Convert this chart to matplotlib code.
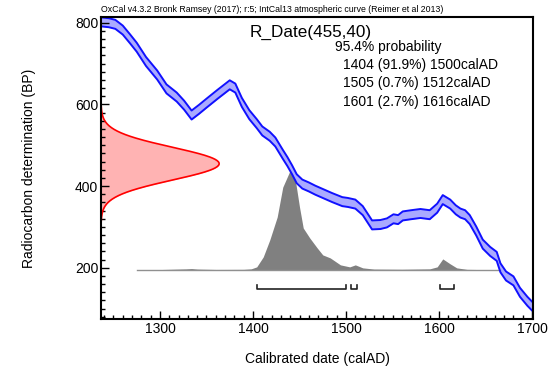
#OxCal calibration plot: R_Date(455,40) against IntCal13
import numpy as np
import matplotlib.pyplot as plt
from matplotlib.ticker import MultipleLocator

plt.rcParams["font.family"] = ["Liberation Sans", "DejaVu Sans"]

#calibration curve (calAD -> BP)
cal_date = [1237, 1245, 1252, 1260, 1268, 1275, 1285, 1297, 1307, 1318, 1326, 1334,
            1342, 1350, 1362, 1375, 1381, 1388, 1396, 1404, 1410, 1418, 1424, 1432,
            1437, 1442, 1447, 1453, 1460, 1467, 1475, 1485, 1496, 1502, 1510, 1518,
            1528, 1537, 1544, 1551, 1556, 1561, 1570, 1580, 1590, 1598, 1604, 1612,
            1618, 1623, 1628, 1633, 1640, 1647, 1655, 1662, 1666, 1672, 1680, 1687,
            1695, 1701]
cal_bp = [802, 800, 796, 782, 760, 740, 705, 672, 638, 618, 598, 574,
          588, 603, 625, 648, 640, 605, 575, 553, 535, 522, 508, 478,
          460, 440, 418, 405, 398, 390, 382, 372, 362, 360, 356, 340,
          305, 306, 310, 320, 318, 327, 330, 333, 330, 346, 367, 356,
          342, 334, 330, 318, 290, 258, 240, 228, 200, 180, 168, 140,
          118, 104]
cal_err = 11

#radiocarbon measurement
r_mean = 455
r_sigma = 40

#calibrated probability (relative to peak)
prob_date = [1275, 1300, 1328, 1334, 1340, 1360, 1390, 1398, 1404, 1411, 1418, 1426,
             1432, 1440, 1445, 1450, 1454, 1461, 1469, 1475, 1483, 1494, 1504, 1510,
             1518, 1530, 1560, 1590, 1598, 1604, 1612, 1619, 1630, 1665]
prob_val = [0, 0.003, 0.01, 0.013, 0.008, 0.004, 0.005, 0.01, 0.03, 0.13, 0.30, 0.53,
            0.83, 1.00, 0.93, 0.63, 0.42, 0.32, 0.22, 0.15, 0.12, 0.05, 0.03, 0.05,
            0.02, 0.008, 0.006, 0.01, 0.03, 0.11, 0.06, 0.02, 0.005, 0]

#95.4% ranges
range_start = [1404, 1505, 1601]
range_end = [1500, 1512, 1616]
range_lines = ["1404 (91.9%) 1500calAD", "1505 (0.7%) 1512calAD", "1601 (2.7%) 1616calAD"]

fig = plt.figure(figsize=(5.56, 3.71), dpi=100)
ax = fig.add_axes([101/556, 52/371, 432/556, 302/371])
xmin, xmax = 1236.6, 1701
ax.set_xlim(xmin, xmax)
ax.set_ylim(74.7, 814)

#measurement on the y axis
yy = np.linspace(r_mean - 3.5*r_sigma, r_mean + 3.5*r_sigma, 200)
xx = xmin + 127*np.exp(-0.5*((yy - r_mean)/r_sigma)**2)
ax.fill_betweenx(yy, xmin, xx, color="#ffb3b3", lw=0)
ax.plot(xx, yy, color="red", lw=1.2)

#calibrated distribution
base = 195
scale = 244
pd_ = np.array(prob_date)
pv = base + scale*np.array(prob_val)
ax.fill_between(pd_, base, pv, color="#808080", lw=0)
ax.plot([prob_date[0], prob_date[-1]], [base, base], color="#909090", lw=1)

#calibration curve band
cd = np.array(cal_date)
cb = np.array(cal_bp)
ax.fill_between(cd, cb - cal_err, cb + cal_err, color="#aaaaff", lw=0)
ax.plot(cd, cb + cal_err, color="#1010ff", lw=1.4)
ax.plot(cd, cb - cal_err, color="#1010ff", lw=1.4)

#range brackets
for s, e in zip(range_start, range_end):
    ax.plot([s, s, e, e], [158, 148, 148, 158], color="#222222", lw=1.2)

ax.xaxis.set_major_locator(MultipleLocator(100))
ax.xaxis.set_minor_locator(MultipleLocator(10))
ax.yaxis.set_major_locator(MultipleLocator(200))
ax.yaxis.set_minor_locator(MultipleLocator(20))
ax.tick_params(which="both", direction="in", width=1, labelsize=10, pad=2)
ax.tick_params(which="major", length=5.5)
ax.tick_params(which="minor", length=3)
for sp in ax.spines.values():
    sp.set_linewidth(1.5)

ax.set_xlabel("Calibrated date (calAD)", fontsize=10, labelpad=12)
ax.set_ylabel("Radiocarbon determination (BP)", fontsize=10, labelpad=28)

fig.text(101/556, 1 - 10/371, "OxCal v4.3.2 Bronk Ramsey (2017); r:5; IntCal13 atmospheric curve (Reimer et al 2013)",
         fontsize=6.3, va="center", ha="left")
fig.text(250/556, 1 - 32/371, "R_Date(455,40)", fontsize=12.3, va="center", ha="left")
fig.text(335/556, 1 - 47/371, "95.4% probability", fontsize=10, va="center", ha="left")
for i, t in enumerate(range_lines):
    fig.text(343/556, 1 - (65 + 18.3*i)/371, t, fontsize=10, va="center", ha="left")

fig.savefig("out.png", dpi=100)
